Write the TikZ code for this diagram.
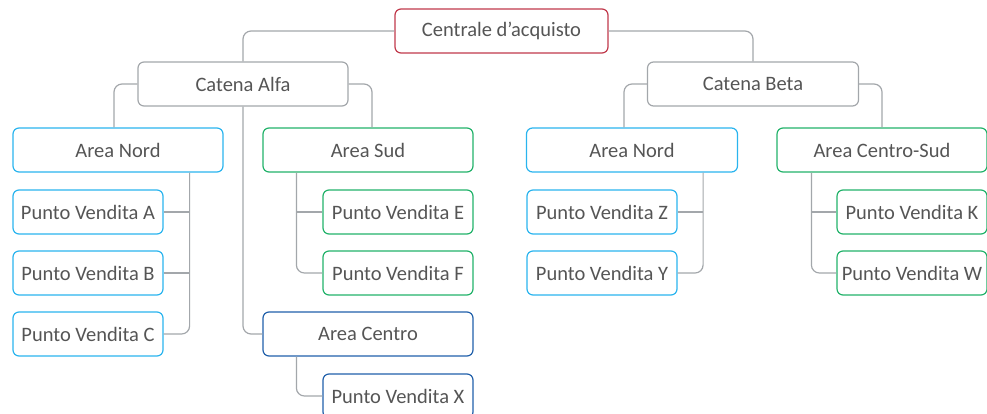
\documentclass[tikz,border=0pt]{standalone}
\usepackage{fontspec}
\setmainfont{Carlito}
\definecolor{rossoC}{HTML}{C0394B}
\definecolor{grigioC}{HTML}{A3A7AB}
\definecolor{celesteC}{HTML}{2AB4EE}
\definecolor{verdeC}{HTML}{22B26A}
\definecolor{bluC}{HTML}{2160AA}
\definecolor{testoC}{HTML}{555555}

\begin{document}
\begin{tikzpicture}[x=1pt, y=-1pt,
	box/.style={draw, rounded corners=6pt, line width=1.2pt, inner sep=0pt, minimum height=44pt, text=testoC, font=\fontsize{20.5}{22}\selectfont},
	link/.style={draw=grigioC, line width=1.2pt, rounded corners=8pt}]
\useasboundingbox (0,0) rectangle (987,414);

\newcommand\drawBox[6]{\node[box, draw=#5, minimum width=#6] at (#1,#2) (#3) {#4};}

% livelli superiori
\drawBox{501.5}{31}{centrale}{Centrale d'acquisto}{rossoC}{213pt}
\drawBox{243}{84}{alfa}{Catena Alfa}{grigioC}{210pt}
\drawBox{753}{84}{beta}{Catena Beta}{grigioC}{211pt}

% aree
\drawBox{118}{150}{nordA}{Area Nord}{celesteC}{210pt}
\drawBox{368}{150}{sud}{Area Sud}{verdeC}{210pt}
\drawBox{368}{334}{centro}{Area Centro}{bluC}{210pt}
\drawBox{632}{150}{nordB}{Area Nord}{celesteC}{211pt}
\drawBox{882}{150}{centrosud}{Area Centro-Sud}{verdeC}{210pt}

% punti vendita
\drawBox{88}{212}{pvA}{Punto Vendita A}{celesteC}{150pt}
\drawBox{88}{273}{pvB}{Punto Vendita B}{celesteC}{150pt}
\drawBox{88}{334}{pvC}{Punto Vendita C}{celesteC}{150pt}
\drawBox{398}{212}{pvE}{Punto Vendita E}{verdeC}{150pt}
\drawBox{398}{273}{pvF}{Punto Vendita F}{verdeC}{150pt}
\drawBox{398}{396}{pvX}{Punto Vendita X}{bluC}{150pt}
\drawBox{602}{212}{pvZ}{Punto Vendita Z}{celesteC}{150pt}
\drawBox{602}{273}{pvY}{Punto Vendita Y}{celesteC}{150pt}
\drawBox{912}{212}{pvK}{Punto Vendita K}{verdeC}{150pt}
\drawBox{912}{273}{pvW}{Punto Vendita W}{verdeC}{150pt}

% collegamenti
\draw[link] (centrale.west) -| (alfa.north);
\draw[link] (centrale.east) -| (beta.north);
\draw[link] (alfa.west) -| ([xshift=-4pt]nordA.north);
\draw[link] (alfa.east) -| ([xshift=4pt]sud.north);
\draw[link] (alfa.south) |- (centro.west);
\draw[link] (beta.west) -| ([xshift=-8pt]nordB.north);
\draw[link] (beta.east) -| (centrosud.north);

\coordinate (busA) at ([xshift=-34pt]nordA.south east);
\draw[link] (busA) |- (pvC.east);
\draw[link] (pvA.east) -- (pvA.east -| busA);
\draw[link] (pvB.east) -- (pvB.east -| busA);

\coordinate (busS) at ([xshift=34pt]sud.south west);
\draw[link] (busS) |- (pvF.west);
\draw[link] (pvE.west) -- (pvE.west -| busS);

\coordinate (busC) at ([xshift=34pt]centro.south west);
\draw[link] (busC) |- (pvX.west);

\coordinate (busB) at ([xshift=-35pt]nordB.south east);
\draw[link] (busB) |- (pvY.east);
\draw[link] (pvZ.east) -- (pvZ.east -| busB);

\coordinate (busCS) at ([xshift=35pt]centrosud.south west);
\draw[link] (busCS) |- (pvW.west);
\draw[link] (pvK.west) -- (pvK.west -| busCS);
\end{tikzpicture}
\end{document}
